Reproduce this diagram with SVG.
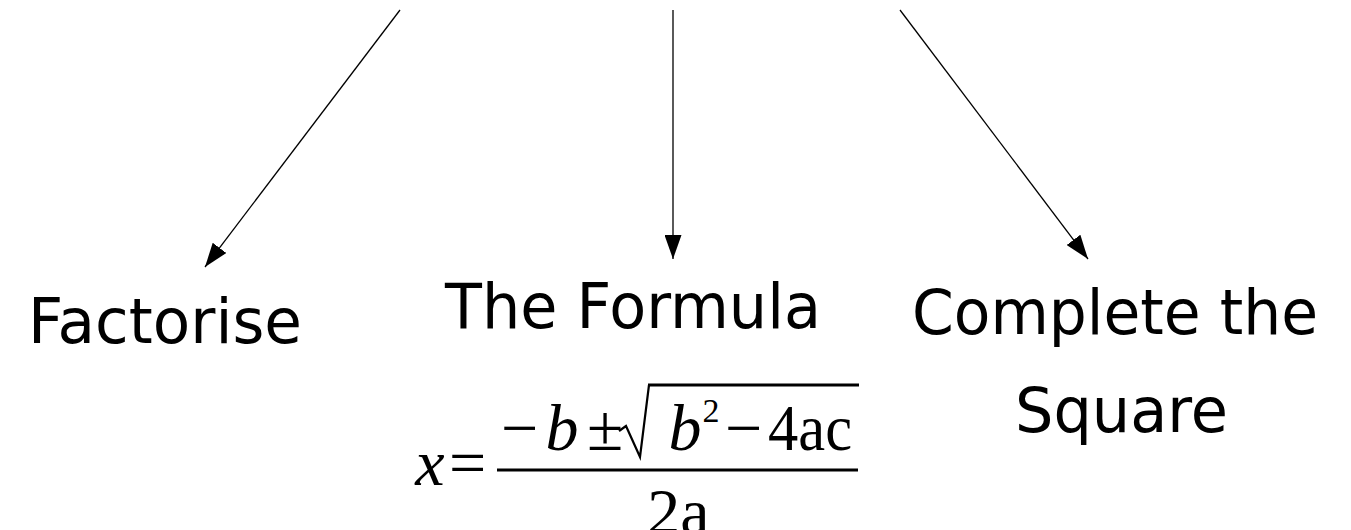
<svg xmlns="http://www.w3.org/2000/svg" width="1351" height="530" viewBox="0 0 1351 530">
<style>
.lbl{font-family:"DejaVu Sans","Noto Sans",sans-serif;font-size:62px;fill:#000}
.m{font-family:"Liberation Serif","Times New Roman",serif;font-size:66px;fill:#000;text-anchor:middle}
.i{font-style:italic}
.conn line{stroke:#000;stroke-width:1.3;fill:none}
</style>
<defs>
<marker id="ah" viewBox="0 0 24 17" refX="24" refY="8.5" markerWidth="24" markerHeight="17" markerUnits="userSpaceOnUse" orient="auto">
<path d="M0,0 L24,8.5 L0,17 Z" fill="#000"/>
</marker>
</defs>
<rect width="1351" height="530" fill="#fff"/>
<g id="connectors" class="conn">
<line x1="400" y1="10" x2="205" y2="267" marker-end="url(#ah)"/>
<line x1="673" y1="10" x2="673" y2="259" marker-end="url(#ah)"/>
<line x1="900" y1="10" x2="1088" y2="259" marker-end="url(#ah)"/>
</g>
<g id="factorise">
<text class="lbl" x="28" y="343" textLength="274" lengthAdjust="spacingAndGlyphs">Factorise</text>
</g>
<g id="formula">
<text class="lbl" x="445" y="328" textLength="376" lengthAdjust="spacingAndGlyphs">The Formula</text>
<text class="m i" x="430" y="485">x</text>
<text class="m" x="467.5" y="485">=</text>
<text class="m" x="519.5" y="450">−</text>
<text class="m i" x="562" y="450">b</text>
<text class="m" x="605" y="450">±</text>
<path d="M619,431 L626,426 L640,457 L649,385" fill="none" stroke="#000" stroke-width="2.2" stroke-linejoin="miter"/>
<line x1="648" y1="385" x2="859" y2="385" stroke="#000" stroke-width="3"/>
<text class="m i" x="685" y="450">b</text>
<text class="m" x="711" y="422" style="font-size:34px">2</text>
<text class="m" x="743.5" y="450">−</text>
<text class="m" x="810" y="450" textLength="84" lengthAdjust="spacingAndGlyphs">4ac</text>
<line x1="497" y1="470" x2="858" y2="470" stroke="#000" stroke-width="3"/>
<text class="m" x="678.5" y="534">2a</text>
</g>
<g id="complete">
<text class="lbl" x="912" y="334" textLength="406" lengthAdjust="spacingAndGlyphs">Complete the</text>
<text class="lbl" x="1015" y="432" textLength="213" lengthAdjust="spacingAndGlyphs">Square</text>
</g>
</svg>
